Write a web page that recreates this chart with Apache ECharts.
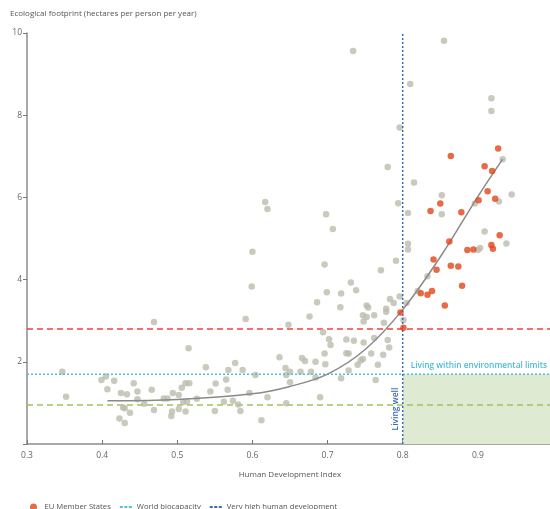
<!DOCTYPE html>
<html>
<head>
<meta charset="utf-8">
<script src="https://cdn.jsdelivr.net/npm/echarts@6/dist/echarts.min.js"></script>
<style>html,body{margin:0;padding:0;background:#fff;overflow:hidden}#c{width:550px;height:509px}</style>
</head>
<body>
<div id="c"></div>
<script>
// Human Development Index (x) vs Ecological footprint (y), all countries
const countryPoints = [
  [0.347,1.76],[0.352,1.15],
  [0.399,1.56],[0.405,1.64],[0.416,1.54],[0.407,1.33],[0.425,1.24],[0.433,1.21],[0.442,1.48],[0.447,1.28],
  [0.447,1.09],[0.456,0.98],[0.428,0.89],[0.430,0.87],[0.437,0.76],[0.423,0.62],[0.430,0.51],
  [0.469,2.97],[0.466,1.32],[0.469,0.83],[0.482,1.11],[0.487,1.11],[0.494,1.24],[0.502,1.19],[0.506,1.37],
  [0.511,1.48],[0.516,1.48],[0.502,0.85],[0.493,0.79],[0.492,0.68],[0.511,0.79],[0.508,1.02],[0.513,1.03],
  [0.526,1.10],[0.515,2.33],
  [0.538,1.87],[0.544,1.28],[0.551,1.47],[0.550,0.80],[0.565,1.57],[0.568,1.80],[0.567,1.32],[0.577,1.97],
  [0.587,1.80],[0.562,1.03],[0.574,1.05],[0.581,0.96],[0.584,0.80],[0.596,1.24],[0.604,1.68],[0.612,0.58],
  [0.591,3.04],[0.599,3.83],[0.600,4.68],[0.617,5.89],[0.620,5.72],[0.620,1.14],[0.636,2.11],[0.644,1.85],
  [0.650,1.76],[0.645,1.68],[0.650,1.50],[0.645,0.99],[0.648,2.90],[0.664,1.76],[0.666,2.09],[0.670,2.02],
  [0.676,3.10],[0.678,1.76],[0.684,2.00],[0.684,1.62],[0.686,3.45],[0.690,1.14],[0.694,2.72],[0.696,4.37],
  [0.696,2.20],[0.697,1.94],[0.698,5.59],[0.699,3.69],[0.702,2.55],[0.704,2.41],[0.707,5.23],[0.717,3.33],
  [0.718,3.66],[0.718,1.60],[0.725,2.54],[0.725,2.21],[0.728,2.20],[0.728,1.79],[0.731,3.93],[0.734,9.56],
  [0.735,2.51],[0.738,3.74],[0.740,1.93],[0.744,2.03],[0.747,2.07],[0.747,3.13],[0.748,2.47],[0.748,2.98],
  [0.752,3.37],[0.754,3.32],[0.752,3.09],[0.758,2.20],[0.762,3.13],[0.762,2.58],[0.764,1.56],[0.767,1.93],
  [0.774,2.17],[0.771,4.23],[0.775,2.95],[0.778,3.29],[0.778,3.22],[0.780,2.53],[0.782,2.35],
  [0.780,6.74],[0.783,3.53],[0.788,3.43],[0.796,3.59],[0.791,4.46],[0.794,5.86],[0.796,7.70],[0.801,3.02],
  [0.805,3.43],[0.807,4.87],[0.807,4.73],[0.807,5.62],[0.810,8.76],[0.815,6.36],[0.820,3.72],[0.833,4.08],
  [0.852,6.05],[0.852,5.59],[0.855,9.81],[0.896,5.85],[0.900,4.72],[0.903,4.77],[0.909,5.17],[0.918,8.41],
  [0.918,8.10],[0.928,5.90],[0.933,6.93],[0.938,4.88],[0.945,6.07]
];
// EU Member States
const euPoints = [
  [0.927,7.19],[0.864,7.01],[0.909,6.76],[0.919,6.64],[0.913,6.15],[0.923,5.97],[0.901,5.93],[0.850,5.85],
  [0.837,5.67],[0.878,5.64],[0.862,4.93],[0.929,5.08],[0.918,4.84],[0.920,4.75],[0.886,4.72],[0.894,4.73],
  [0.841,4.49],[0.845,4.24],[0.864,4.34],[0.874,4.32],[0.879,3.85],[0.824,3.67],[0.833,3.63],[0.839,3.72],
  [0.856,3.37],[0.797,3.20],[0.801,2.83]
];
// Trend curve
const trendPoints = [
  [0.407,1.05],[0.50,1.08],[0.60,1.22],[0.65,1.40],[0.70,1.70],[0.75,2.30],[0.80,3.27],
  [0.85,4.55],[0.90,6.02],[0.933,6.93]
];
const xTicks = [0.3,0.4,0.5,0.6,0.7,0.8,0.9,1.0];
const yTicks = [0,2,4,6,8,10];
const redLevel = 2.8;
const worldBiocapacity = 1.7;
const greenLevel = 0.95;
const veryHighHDI = 0.8;
const xRange = [0.3, 1.0];
const yRange = [0, 10];

const chart = echarts.init(document.getElementById('c'));
const FONT = '"Open Sans", sans-serif';
const hLine = (v) => [[xRange[0], v], [xRange[1], v]];
const dashIcon = 'path://M0,0H3V2H0Z M4.5,0H7.5V2H4.5Z M9,0H12V2H9Z';

chart.setOption({
  animation: false,
  textStyle: { fontFamily: FONT },
  title: {
    text: 'Ecological footprint (hectares per person per year)',
    left: 5, top: 5,
    textStyle: { fontSize: 8, fontWeight: 'normal', color: '#555', fontFamily: FONT }
  },
  grid: { left: 27, width: 526, top: 33, bottom: 65, outerBoundsMode: 'none', containLabel: false },
  legend: {
    left: 25, top: 498,
    itemWidth: 12, itemHeight: 7, itemGap: 9,
    textStyle: { fontSize: 7.7, color: '#555', fontFamily: FONT },
    data: [
      { name: 'EU Member States', icon: 'circle' },
      { name: 'World biocapacity', icon: dashIcon },
      { name: 'Very high human development', icon: dashIcon }
    ]
  },
  xAxis: {
    type: 'value', min: xRange[0], max: xRange[1], interval: 0.1,
    name: 'Human Development Index', nameLocation: 'middle', nameGap: 27,
    nameTextStyle: { fontSize: 8, color: '#555' },
    axisLine: { lineStyle: { color: '#8c8c8c', width: 1.5 } },
    axisTick: { inside: true, length: 4, lineStyle: { color: '#777' } },
    axisLabel: { fontSize: 8.5, color: '#666', margin: 7,
      formatter: v => (Math.abs(v - 1) < 1e-9 ? '' : v.toFixed(1)) },
    splitLine: { show: false }
  },
  yAxis: {
    type: 'value', min: yRange[0], max: yRange[1], interval: 2,
    axisLine: { show: true, lineStyle: { color: '#8c8c8c', width: 1.5 } },
    axisTick: { show: true, length: 4, lineStyle: { color: '#777' } },
    axisLabel: { fontSize: 8.5, color: '#666', margin: 5,
      formatter: v => (v === 0 ? '' : String(v)) },
    splitLine: { show: false }
  },
  series: [
    {
      name: 'Green zone', type: 'line', data: [], silent: true,
      markArea: {
        silent: true,
        itemStyle: { color: '#dfead2' },
        data: [[{ coord: [veryHighHDI, 0] }, { coord: [xRange[1], worldBiocapacity] }]]
      }
    },
    {
      name: 'Footprint level', type: 'line', data: hLine(greenLevel), symbol: 'none', silent: true,
      lineStyle: { color: '#9cc35c', width: 1.5, type: [6, 4] }, z: 3
    },
    {
      name: 'Red level', type: 'line', data: hLine(redLevel), symbol: 'none', silent: true,
      lineStyle: { color: '#ff3b3b', width: 1.5, type: [6, 4] }, z: 3
    },
    {
      name: 'Countries', type: 'scatter', data: countryPoints, symbolSize: 6.5,
      itemStyle: { color: '#bbbcae' }, z: 4
    },
    {
      name: 'World biocapacity', type: 'line', data: hLine(worldBiocapacity), symbol: 'none', silent: true,
      itemStyle: { color: '#4fc0d8' },
      lineStyle: { color: '#4fc0d8', width: 1.5, type: [2, 2] }, z: 5
    },
    {
      name: 'Very high human development', type: 'line',
      data: [[veryHighHDI, yRange[0]], [veryHighHDI, yRange[1]]], symbol: 'none', silent: true,
      itemStyle: { color: '#3a6db8' },
      lineStyle: { color: '#3a6db8', width: 1.5, type: [2, 2] }, z: 5
    },
    {
      name: 'Trend', type: 'line', data: trendPoints, smooth: 0.35,
      symbol: 'none', silent: true,
      lineStyle: { color: '#8a8a8a', width: 1.5 }, z: 6
    },
    {
      name: 'EU Member States', type: 'scatter', data: euPoints, symbolSize: 6.5,
      itemStyle: { color: '#e1461c' }, z: 7
    }
  ]
});

const pLimit = chart.convertToPixel({ gridIndex: 0 }, [veryHighHDI, worldBiocapacity]);
const pWell = chart.convertToPixel({ gridIndex: 0 }, [veryHighHDI, 0.85]);
chart.setOption({
  graphic: [
    {
      type: 'text', left: pLimit[0] + 8, top: pLimit[1] - 12,
      style: { text: 'Living within environmental limits', fill: '#4cbcd6',
        font: '600 8.3px "Open Sans", sans-serif' }
    },
    {
      type: 'text', x: pWell[0] - 7, y: pWell[1], rotation: Math.PI / 2,
      style: { text: 'Living well', fill: '#3a6db8', align: 'center', verticalAlign: 'middle',
        font: '600 8.5px "Open Sans", sans-serif' }
    }
  ]
});
</script>
</body>
</html>
